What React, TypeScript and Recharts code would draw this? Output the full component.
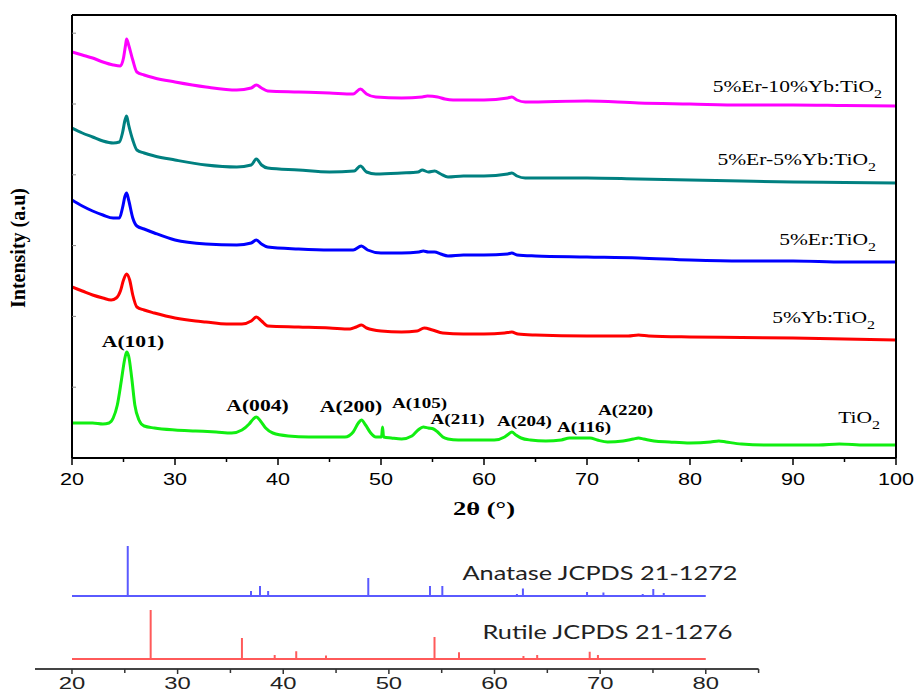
import React from 'react';
import { LineChart, Line, XAxis, YAxis, ReferenceDot } from 'recharts';

// ---------- top panel: XRD patterns (2θ, intensity a.u.) ----------
const TIO2: [number, number][] = [
  [20,35],[21,35],[22,35],[23,34],[23.6,35],[24,40],[24.4,53],[24.8,78],[25.1,98],[25.3,106],[25.5,102],[25.8,80],[26.1,53],[26.5,38],[27,32],[28,30],[30,28],[32,27],[34,26],[35.5,25],[36.5,28],[37.2,34],[37.6,39],[37.9,41],[38.3,37],[38.8,30],[39.5,25],[41,22],[43,21],[45,21],[46.5,21],[47.3,26],[47.8,35],[48.1,38],[48.5,33],[49,25],[49.5,21],[50.05,21],[50.15,31],[50.25,21],[51,20],[52,19],[53,22],[53.6,28],[54.1,31],[54.6,30],[55.1,29],[55.5,26],[56,21],[56.5,19],[57.5,18],[59,18],[61,18],[62,21],[62.4,24],[62.7,26],[63.1,23],[63.6,20],[64.5,18],[66,17],[67.5,18],[68.3,20],[68.8,20],[69.5,20],[70.3,20],[71,18],[72,16],[73.5,17],[74.5,19],[75,20],[75.5,19],[76.5,17],[78,16],[80,15],[82,16],[82.8,17],[83.5,16],[85,14],[87.5,13],[90,13],[92.5,13],[94.5,14],[97,13],[100,13],
];
const YB5: [number, number][] = [
  [20,171],[21,167],[22,163],[23,160],[23.8,158],[24.3,160],[24.7,167],[25,178],[25.3,184],[25.6,178],[25.9,163],[26.3,151],[27,148],[28,145],[30,140],[32,137],[33,136],[35,134],[36.5,134],[37.4,137],[37.9,141],[38.4,137],[39,132],[42,131],[45,130],[47,129],[47.6,131],[48.1,133],[48.6,130],[50,127],[52,126],[53.5,127],[54.2,130],[55,128],[56,125],[58,124],[60,124],[62,125],[62.7,126],[63.3,124],[65,123],[70,122],[74,122],[75,123],[76,122],[80,121],[85,120.5],[90,120],[95,119],[100,118],
];
const ER5: [number, number][] = [
  [20,258],[21,252],[22,247],[23,243],[24,240],[24.6,240],[24.9,250],[25.15,262],[25.3,265],[25.5,258],[25.9,240],[26.3,232],[27,229],[28,225],[30,218],[33,214],[36,213],[37.4,215],[37.9,218],[38.4,214],[39,211],[42,209],[45,208],[47.3,208],[48.1,212],[48.7,208],[50,205],[52,205],[53.7,206],[54.1,207],[54.6,206],[55.2,206],[55.8,204],[56.5,202],[58,203],[60,203],[62.3,204],[62.7,205],[63.2,203],[65,202],[70,201],[75,200],[80,198],[85,197],[90,197],[95,196],[100,196],
];
const ER5YB5: [number, number][] = [
  [20,330],[21,325],[22,321],[23,317],[24,315],[24.6,316],[24.9,325],[25.15,338],[25.3,342],[25.5,333],[25.9,318],[26.3,308],[27,305],[28,302],[30,298],[33,293],[36,291],[37.4,293],[37.9,299],[38.4,293],[39,290],[42,288],[45,286],[47.4,287],[48,292],[48.6,286],[49.5,284],[52,285],[53.6,286],[54,288],[54.6,286],[55.2,287],[55.8,284],[56.5,281],[58,282],[60,282],[62.3,284],[62.7,285],[63.2,282],[64,280],[70,280],[75,279],[80,278],[85,277],[90,276],[95,275.5],[100,275],
];
const ER5YB10: [number, number][] = [
  [20,406],[21,403],[22,400],[23,396],[24,393],[24.7,392],[25,400],[25.2,413],[25.3,419],[25.5,413],[25.9,398],[26.3,386],[27,383],[28,380],[30,376],[33,371],[36,368],[37.4,370],[37.9,373],[38.4,370],[39,367],[42,366],[45,365],[47.3,364],[48,369],[48.6,364],[49.5,361],[52,360],[54,361],[54.5,362],[55.5,361],[56.2,359],[57,358],[58,358],[60,358],[62.3,360],[62.7,361],[63.2,358],[64,356],[70,357],[75,355],[80,354],[85,353],[90,353],[95,352.5],[100,352],
];

const seriesNames = ['5%Er-10%Yb:TiO', '5%Er-5%Yb:TiO', '5%Er:TiO', '5%Yb:TiO', 'TiO'];
const seriesLabelX = [98.64, 98.06, 98.06, 97.96, 98.45];
const seriesLabelY = [366, 293, 213, 135, 35];

const peakNames = ['A(101)', 'A(004)', 'A(200)', 'A(105)', 'A(211)', 'A(204)', 'A(116)', 'A(220)'];
const peakLabelX = [25.92, 38.01, 47.09, 53.74, 57.43, 63.93, 69.71, 73.74];
const peakLabelY = [111, 47, 46, 50, 34, 32, 26, 43];
const peakLabelSize = [17, 17, 17, 15, 15, 15, 15, 15];

const topXTicks = [20, 25, 30, 35, 40, 45, 50, 55, 60, 65, 70, 75, 80, 85, 90, 95, 100];
const leftTicks = [70.8, 141.6, 212.4, 283.2, 354, 424.8];
const topFrameTicks = [1, 2, 3, 4, 5, 6, 7, 8, 9];

// ---------- bottom panel: reference patterns ----------
const anataseTheta = [25.28, 36.95, 37.8, 38.57, 48.05, 53.89, 55.06, 62.12, 62.69, 68.76, 70.31, 74.03, 75.03, 76.02];
const anataseI = [100, 10, 20, 10, 36, 20, 20, 4, 15, 8, 7, 4, 14, 6];
const rutileTheta = [27.45, 36.09, 39.19, 41.23, 44.05, 54.32, 56.64, 62.74, 64.04, 65.48, 69.01, 69.79, 72.41, 74.41, 76.51];
const rutileI = [100, 43, 8, 16, 7, 45, 14, 6, 8, 2, 15, 8, 2, 2, 2];
const bottomTicks = [20, 25, 30, 35, 40, 45, 50, 55, 60, 65, 70, 75, 80, 85];

const SERIF = "'Liberation Serif', 'Times New Roman', serif";
const SANS = "'Liberation Sans', Arial, sans-serif";
const LATO = "Lato, 'Open Sans', sans-serif";

const toPts = (arr: [number, number][]) => arr.map(([x, y]) => ({ x, y }));

const buildSticks = (theta: number[], inten: number[], base: number, scale: number) => {
  const pts: { x: number; y: number }[] = [{ x: 20, y: base }];
  theta.forEach((t, i) => {
    pts.push({ x: t, y: base });
    pts.push({ x: t, y: base + inten[i] * scale });
    pts.push({ x: t, y: base });
  });
  pts.push({ x: 80, y: base });
  return pts;
};

const center = (vb: any) => ({
  cx: (vb?.x ?? 0) + (vb?.width ?? 0) / 2,
  cy: (vb?.y ?? 0) + (vb?.height ?? 0) / 2,
});

const SeriesLabel = (props: any) => {
  const { cx, cy } = center(props.viewBox);
  return (
    <text transform={`translate(${cx},${cy}) scale(1.23,1)`} textAnchor="end" fontFamily={SERIF} fontSize={17.5} fill="#000">
      {props.text}
      <tspan fontSize={13} dy={6}>2</tspan>
    </text>
  );
};

const PeakLabel = (props: any) => {
  const { cx, cy } = center(props.viewBox);
  return (
    <text transform={`translate(${cx},${cy}) scale(1.27,1)`} textAnchor="middle" fontFamily={SERIF} fontWeight="bold" fontSize={props.size} fill="#000">
      {props.text}
    </text>
  );
};

const RefLabel = (props: any) => {
  const { cx, cy } = center(props.viewBox);
  return (
    <text x={cx} y={cy} textAnchor="start" fontFamily={LATO} fontSize={20} fill="#222" textLength={props.len} lengthAdjust="spacingAndGlyphs">
      {props.text}
    </text>
  );
};

const renderMainXTick = (p: any) => {
  const { x, y, payload } = p;
  const v = payload.value;
  const major = v % 10 === 0;
  return (
    <g>
      <line x1={x} x2={x} y1={y} y2={y + (major ? 7 : 4)} stroke="#000" strokeWidth={1.5} />
      {major ? (
        <text transform={`translate(${x},${y + 27}) scale(1.27,1)`} textAnchor="middle" fontFamily={SANS} fontSize={17} fill="#000">
          {v}
        </text>
      ) : null}
    </g>
  );
};

const renderBottomXTick = (p: any) => {
  const { x, y, payload } = p;
  const v = payload.value;
  const major = v % 10 === 0;
  return (
    <g>
      <line x1={x} x2={x} y1={y} y2={y + (major ? 5 : 4)} stroke="#333" strokeWidth={1.5} />
      {major && v <= 80 ? (
        <text transform={`translate(${x},${y + 20}) scale(1.4,1)`} textAnchor="middle" fontFamily={SANS} fontSize={17} fill="#222">
          {v}
        </text>
      ) : null}
    </g>
  );
};

const renderLeftTick = (p: any) => (
  <line x1={p.x} x2={p.x + 4} y1={p.y} y2={p.y} stroke="#888" strokeWidth={1} />
);
const renderTopTick = (p: any) => (
  <line x1={p.x} x2={p.x} y1={p.y} y2={p.y + 4} stroke="#888" strokeWidth={1} />
);

const XTitle = (props: any) => {
  const vb = props.viewBox || { x: 72, y: 458, width: 824, height: 30 };
  return (
    <text x={vb.x + vb.width / 2} y={vb.y + 57} textAnchor="middle" fontFamily={SERIF} fontWeight="bold" fontSize={18} fill="#000" textLength={62} lengthAdjust="spacingAndGlyphs">
      2θ (°)
    </text>
  );
};

const YTitle = (props: any) => {
  const vb = props.viewBox || { x: 32, y: 15, width: 40, height: 443 };
  const x = vb.x + vb.width - 47;
  const y = vb.y + vb.height / 2 + 11.5;
  return (
    <text transform={`translate(${x},${y}) rotate(-90) scale(1,1.15)`} textAnchor="middle" fontFamily={SERIF} fontWeight="bold" fontSize={18} fill="#000" textLength={120} lengthAdjust="spacingAndGlyphs">
      Intensity (a.u)
    </text>
  );
};

const series = [
  { data: ER5YB10, color: '#ff00ff' },
  { data: ER5YB5, color: '#008080' },
  { data: ER5, color: '#0000ff' },
  { data: YB5, color: '#ff0000' },
  { data: TIO2, color: '#11ee11' },
];

export default function App() {
  const anataseData = buildSticks(anataseTheta, anataseI, 73, 0.5);
  const rutileData = buildSticks(rutileTheta, rutileI, 10, 0.49);
  return (
    <div style={{ position: 'absolute', left: 0, top: 0, width: 914, height: 694, background: '#fff' }}>
      <div style={{ position: 'absolute', left: 0, top: 0 }}>
        <LineChart width={914} height={530} margin={{ top: 14, right: 17, bottom: 42, left: 32 }}>
          <XAxis
            dataKey="x"
            type="number"
            domain={[20, 100]}
            allowDataOverflow
            ticks={topXTicks}
            interval={0}
            height={30}
            tickSize={0}
            tickMargin={0}
            tickLine={false}
            axisLine={{ stroke: '#000', strokeWidth: 2 }}
            tick={renderMainXTick}
            label={<XTitle />}
          />
          <XAxis
            xAxisId="top"
            orientation="top"
            type="number"
            domain={[0, 10]}
            ticks={topFrameTicks}
            interval={0}
            height={1}
            tickSize={0}
            tickMargin={0}
            tickLine={false}
            axisLine={{ stroke: '#000', strokeWidth: 2 }}
            tick={renderTopTick}
          />
          <YAxis
            type="number"
            domain={[0, 443]}
            allowDataOverflow
            ticks={leftTicks}
            interval={0}
            width={40}
            tickSize={0}
            tickMargin={0}
            tickLine={false}
            axisLine={{ stroke: '#000', strokeWidth: 2 }}
            tick={renderLeftTick}
            label={<YTitle />}
          />
          <YAxis
            yAxisId="right"
            orientation="right"
            type="number"
            domain={[0, 1]}
            width={1}
            tick={false}
            tickLine={false}
            axisLine={{ stroke: '#000', strokeWidth: 2 }}
          />
          {series.map((s, i) => (
            <Line
              key={i}
              data={toPts(s.data)}
              dataKey="y"
              type="monotone"
              dot={false}
              stroke={s.color}
              strokeWidth={3}
              isAnimationActive={false}
            />
          ))}
          {seriesNames.map((n, i) => (
            <ReferenceDot key={'s' + i} x={seriesLabelX[i]} y={seriesLabelY[i]} r={1} fill="none" stroke="none" label={<SeriesLabel text={n} />} />
          ))}
          {peakNames.map((n, i) => (
            <ReferenceDot key={'p' + i} x={peakLabelX[i]} y={peakLabelY[i]} r={1} fill="none" stroke="none" label={<PeakLabel text={n} size={peakLabelSize[i]} />} />
          ))}
        </LineChart>
      </div>
      <div style={{ position: 'absolute', left: 0, top: 530 }}>
        <LineChart width={914} height={164} margin={{ top: 9, right: 155.4, bottom: 0, left: 35 }}>
          <XAxis
            dataKey="x"
            type="number"
            domain={[16.5, 85]}
            allowDataOverflow
            ticks={bottomTicks}
            interval={0}
            height={25}
            tickSize={0}
            tickMargin={0}
            tickLine={false}
            axisLine={{ stroke: '#444', strokeWidth: 2 }}
            tick={renderBottomXTick}
          />
          <YAxis hide type="number" domain={[0, 130]} />
          <Line data={anataseData} dataKey="y" type="linear" dot={false} stroke="#5a5aff" strokeWidth={2} isAnimationActive={false} />
          <Line data={rutileData} dataKey="y" type="linear" dot={false} stroke="#ff5a5a" strokeWidth={2} isAnimationActive={false} />
          <ReferenceDot x={56.97} y={89} r={1} fill="none" stroke="none" label={<RefLabel text="Anatase JCPDS 21-1272" len={275} />} />
          <ReferenceDot x={58.86} y={30} r={1} fill="none" stroke="none" label={<RefLabel text="Rutile JCPDS 21-1276" len={250} />} />
        </LineChart>
      </div>
    </div>
  );
}
